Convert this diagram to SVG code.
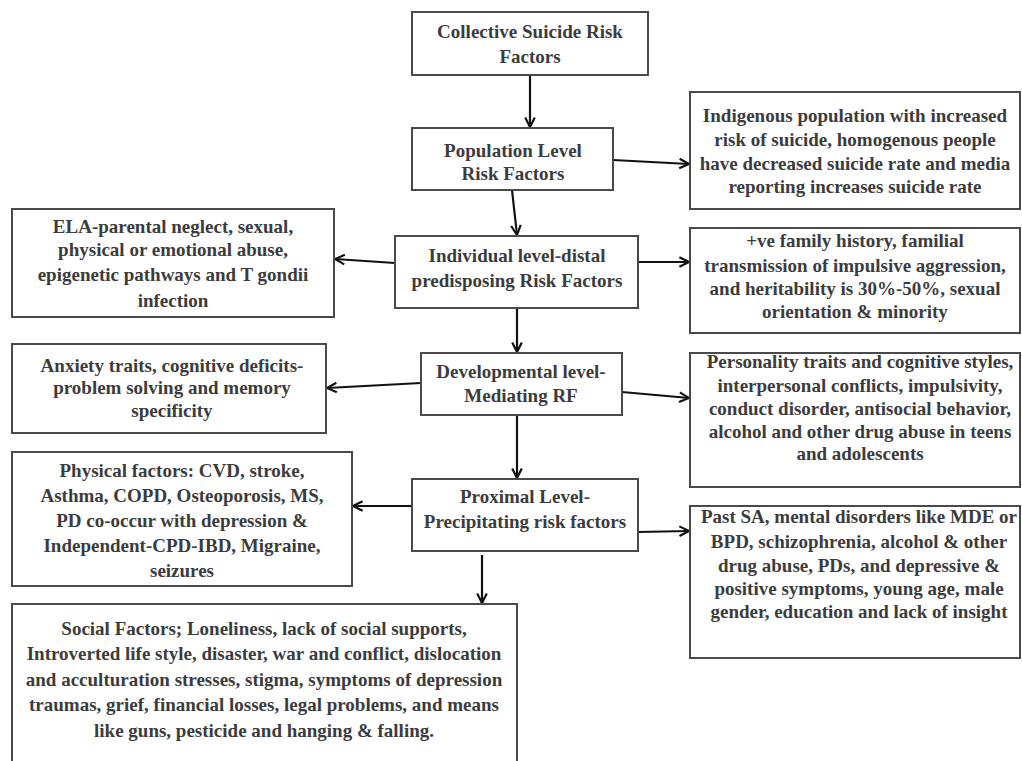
<svg xmlns="http://www.w3.org/2000/svg" width="1022" height="761" viewBox="0 0 1022 761">
<style>
.box{fill:#fff;stroke:#4a4a4a;stroke-width:2}
.t{font-family:"Liberation Serif","Times New Roman",serif;font-weight:bold;font-size:19px;fill:#3c3c3c;text-anchor:middle}
.c{stroke:#111;stroke-width:2.2;fill:none;marker-end:url(#ah)}
</style>
<defs>
<marker id="ah" viewBox="0 0 10 10" refX="9" refY="5" markerWidth="12" markerHeight="12" markerUnits="userSpaceOnUse" orient="auto">
<path d="M1,1 L9,5 L1,9" fill="none" stroke="#111" stroke-width="1.8"/>
</marker>
</defs>
<rect width="1022" height="761" fill="#fff"/>
<g id="connectors">
<line class="c" x1="530" y1="75" x2="530" y2="127"/>
<line class="c" x1="613" y1="160" x2="689" y2="164"/>
<line class="c" x1="512" y1="190" x2="517" y2="235"/>
<line class="c" x1="638" y1="262" x2="689" y2="262"/>
<line class="c" x1="395" y1="263" x2="335" y2="259"/>
<line class="c" x1="517" y1="308" x2="517" y2="352"/>
<line class="c" x1="622" y1="392" x2="689" y2="398"/>
<line class="c" x1="421" y1="383" x2="327" y2="388"/>
<line class="c" x1="517" y1="416" x2="517" y2="478"/>
<line class="c" x1="638" y1="532" x2="689" y2="531"/>
<line class="c" x1="412" y1="506" x2="353" y2="506"/>
<line class="c" x1="482" y1="555" x2="482" y2="603"/>
</g>
<g id="collective">
<rect class="box" x="412" y="12" width="236" height="63"/>
<text class="t" x="530" y="38">Collective Suicide Risk</text>
<text class="t" x="530" y="63">Factors</text>
</g>
<g id="population">
<rect class="box" x="412" y="128" width="201" height="62"/>
<text class="t" x="513" y="157">Population Level</text>
<text class="t" x="513" y="180">Risk Factors</text>
</g>
<g id="population-detail">
<rect class="box" x="690" y="92" width="330" height="117"/>
<text class="t" x="855" y="122">Indigenous population with increased</text>
<text class="t" x="855" y="146">risk of suicide, homogenous people</text>
<text class="t" x="855" y="170">have decreased suicide rate and media</text>
<text class="t" x="855" y="193">reporting increases suicide rate</text>
</g>
<g id="individual">
<rect class="box" x="395" y="236" width="243" height="72"/>
<text class="t" x="517" y="262">Individual level-distal</text>
<text class="t" x="517" y="287">predisposing Risk Factors</text>
</g>
<g id="ela">
<rect class="box" x="12" y="209" width="322" height="108"/>
<text class="t" x="173" y="233">ELA-parental neglect, sexual,</text>
<text class="t" x="173" y="256">physical or emotional abuse,</text>
<text class="t" x="173" y="281">epigenetic pathways and T gondii</text>
<text class="t" x="173" y="307">infection</text>
</g>
<g id="family">
<rect class="box" x="690" y="228" width="330" height="105"/>
<text class="t" x="855" y="247">+ve family history, familial</text>
<text class="t" x="855" y="272">transmission of impulsive aggression,</text>
<text class="t" x="855" y="295">and heritability is 30%-50%, sexual</text>
<text class="t" x="855" y="318">orientation &amp; minority</text>
</g>
<g id="developmental">
<rect class="box" x="421" y="353" width="201" height="62"/>
<text class="t" x="521" y="378">Developmental level-</text>
<text class="t" x="521" y="402">Mediating RF</text>
</g>
<g id="anxiety">
<rect class="box" x="12" y="344" width="314" height="89"/>
<text class="t" x="172" y="372">Anxiety traits, cognitive deficits-</text>
<text class="t" x="172" y="394">problem solving and memory</text>
<text class="t" x="172" y="417">specificity</text>
</g>
<g id="personality">
<rect class="box" x="690" y="353" width="330" height="134"/>
<text class="t" x="860" y="368">Personality traits and cognitive styles,</text>
<text class="t" x="860" y="392">interpersonal conflicts, impulsivity,</text>
<text class="t" x="860" y="415">conduct disorder, antisocial behavior,</text>
<text class="t" x="860" y="438">alcohol and other drug abuse in teens</text>
<text class="t" x="860" y="460">and adolescents</text>
</g>
<g id="proximal">
<rect class="box" x="412" y="479" width="226" height="72"/>
<text class="t" x="525" y="503">Proximal Level-</text>
<text class="t" x="525" y="528">Precipitating risk factors</text>
</g>
<g id="physical">
<rect class="box" x="12" y="452" width="340" height="134"/>
<text class="t" x="182" y="477">Physical factors: CVD, stroke,</text>
<text class="t" x="182" y="502">Asthma, COPD, Osteoporosis, MS,</text>
<text class="t" x="182" y="527">PD co-occur with depression &amp;</text>
<text class="t" x="182" y="552">Independent-CPD-IBD, Migraine,</text>
<text class="t" x="182" y="577">seizures</text>
</g>
<g id="past-sa">
<rect class="box" x="690" y="506" width="330" height="152"/>
<text class="t" x="859" y="523">Past SA, mental disorders like MDE or</text>
<text class="t" x="859" y="548">BPD, schizophrenia, alcohol &amp; other</text>
<text class="t" x="859" y="572">drug abuse, PDs, and depressive &amp;</text>
<text class="t" x="859" y="595">positive symptoms, young age, male</text>
<text class="t" x="859" y="618">gender, education and lack of insight</text>
</g>
<g id="social">
<rect class="box" x="12" y="604" width="505" height="180"/>
<text class="t" x="264" y="635">Social Factors; Loneliness, lack of social supports,</text>
<text class="t" x="264" y="660">Introverted life style, disaster, war and conflict, dislocation</text>
<text class="t" x="264" y="686">and acculturation stresses, stigma, symptoms of depression</text>
<text class="t" x="264" y="711">traumas, grief, financial losses, legal problems, and means</text>
<text class="t" x="264" y="737">like guns, pesticide and hanging &amp; falling.</text>
</g>
</svg>
